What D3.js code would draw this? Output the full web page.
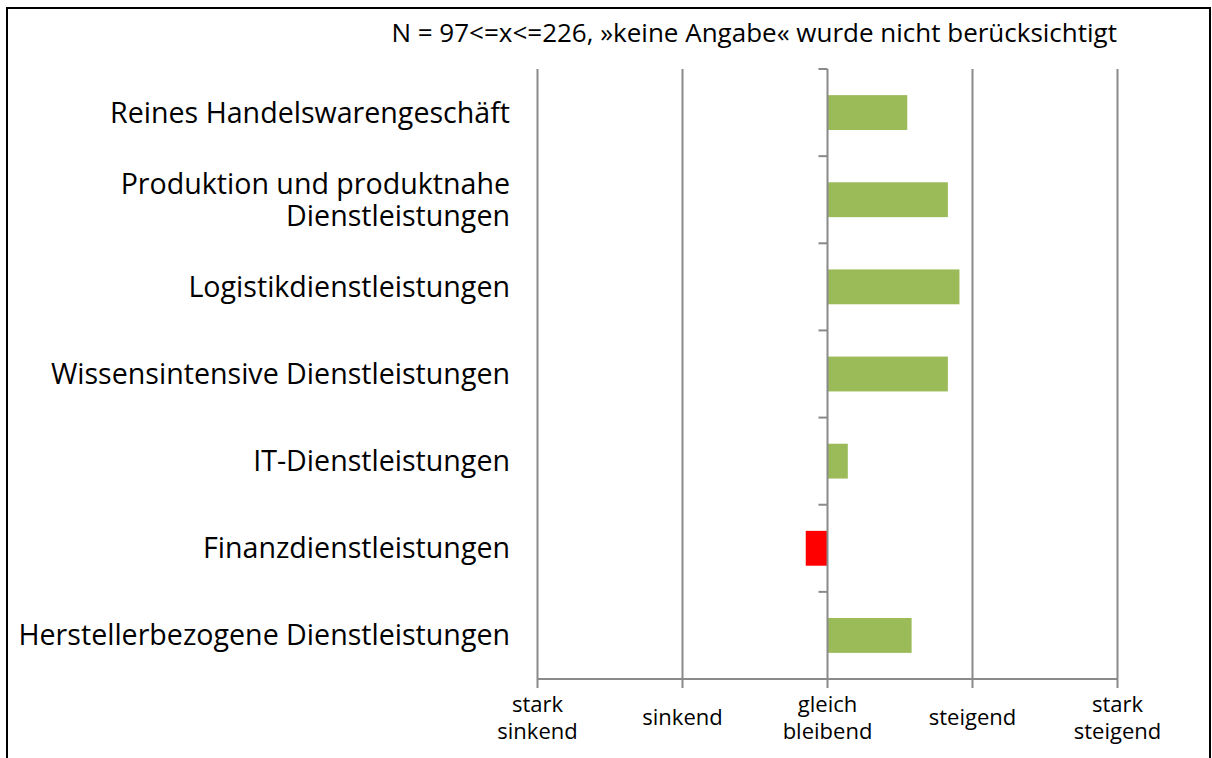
<!DOCTYPE html>
<html><head><meta charset="utf-8">
<script src="https://cdn.jsdelivr.net/npm/d3@7"></script>
<style>body{margin:0;background:#fff}svg{display:block}text{font-family:"Open Sans",sans-serif;fill:#000}</style>
</head><body><svg id="c" width="1212" height="758"></svg>
<script>
const categories = [
  ["Reines Handelswarengeschäft"],
  ["Produktion und produktnahe","Dienstleistungen"],
  ["Logistikdienstleistungen"],
  ["Wissensintensive Dienstleistungen"],
  ["IT-Dienstleistungen"],
  ["Finanzdienstleistungen"],
  ["Herstellerbezogene Dienstleistungen"]
];
const values = [0.55, 0.83, 0.91, 0.83, 0.14, -0.15, 0.58];
const tickValues = [-2, -1, 0, 1, 2];
const tickLabels = [["stark","sinkend"],["sinkend"],["gleich","bleibend"],["steigend"],["stark","steigend"]];
const title = "N = 97<=x<=226, »keine Angabe« wurde nicht berücksichtigt";

const svg = d3.select("#c");
svg.append("rect").attr("x",7).attr("y",8).attr("width",1203).attr("height",770)
  .attr("fill","none").attr("stroke","#000").attr("stroke-width",2);

const x = d3.scaleLinear().domain([-2,2]).range([537.5,1117.5]);
const y = d3.scaleBand().domain(d3.range(categories.length)).range([69,679]).padding(0);
const grey = "#8a8a8a";

// gridlines
svg.append("g").selectAll("line").data(tickValues.filter(d=>d!==0)).join("line")
  .attr("x1",d=>x(d)).attr("x2",d=>x(d)).attr("y1",69).attr("y2",688)
  .attr("stroke",grey).attr("stroke-width",2);

// bars
const bh = y.bandwidth()*0.4;
svg.append("g").selectAll("rect").data(values).join("rect")
  .attr("x",d=>x(Math.min(0,d))).attr("width",d=>Math.abs(x(d)-x(0)))
  .attr("y",(d,i)=>y(i)+y.bandwidth()/2-bh/2).attr("height",bh)
  .attr("fill",d=>d<0?"#FF0000":"#9BBB59");

// category axis at zero
const x0 = x(0);
svg.append("line").attr("x1",x0).attr("x2",x0).attr("y1",69).attr("y2",688)
  .attr("stroke",grey).attr("stroke-width",2);
const bounds = d3.range(categories.length+1).map(i=>69+i*y.step());
svg.append("g").selectAll("line").data(bounds).join("line")
  .attr("x1",x0-9).attr("x2",x0).attr("y1",d=>d).attr("y2",d=>d)
  .attr("stroke",grey).attr("stroke-width",2);

// x axis line
svg.append("line").attr("x1",x(-2)).attr("x2",x(2)).attr("y1",679).attr("y2",679)
  .attr("stroke",grey).attr("stroke-width",2);

// category labels (multi-line as tspans in one text)
const cl = svg.append("g");
categories.forEach((lines,i)=>{
  const cy = y(i)+y.bandwidth()/2;
  const lh = 32;
  const t = cl.append("text").attr("text-anchor","end").attr("font-size",28.6);
  lines.forEach((s,j)=>{
    t.append("tspan").attr("x",510).attr("y",cy+(j-(lines.length-1)/2)*lh)
      .attr("dy","0.35em").text(s);
  });
});

// tick labels
const tl = svg.append("g");
tickValues.forEach((v,i)=>{
  const lines = tickLabels[i];
  const t = tl.append("text").attr("text-anchor","middle").attr("font-size",22);
  lines.forEach((s,j)=>{
    t.append("tspan").attr("x",x(v)).attr("y",717.5 + (j-(lines.length-1)/2)*27)
      .attr("dy","0.35em").text(s);
  });
});

// title
svg.append("text").attr("x",1117).attr("y",33).attr("dy","0.35em")
  .attr("text-anchor","end").attr("font-size",26).text(title);
</script></body></html>
